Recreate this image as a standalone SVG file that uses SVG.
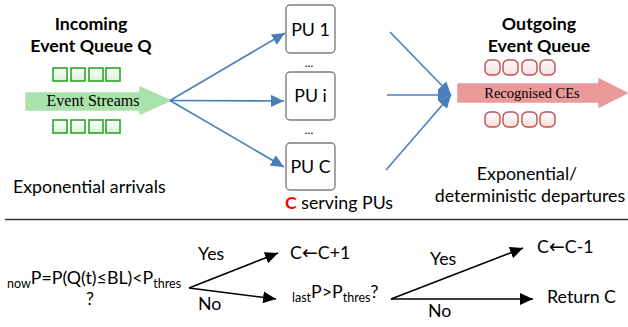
<svg xmlns="http://www.w3.org/2000/svg" width="628" height="327" viewBox="0 0 628 327">
  <defs>
    <linearGradient id="gGreen" x1="0" y1="0" x2="0" y2="1">
      <stop offset="0" stop-color="#ffffff"/>
      <stop offset="1" stop-color="#d9f2d4"/>
    </linearGradient>
    <linearGradient id="gRed" x1="0" y1="0" x2="0" y2="1">
      <stop offset="0" stop-color="#ffffff"/>
      <stop offset="1" stop-color="#f7dcdc"/>
    </linearGradient>
    <marker id="mBlue" markerUnits="userSpaceOnUse" markerWidth="14" markerHeight="12" viewBox="0 0 14 12" refX="13" refY="6" orient="auto">
      <path d="M0,0 L13,6 L0,12 Z" fill="#4a7ebb"/>
    </marker>
    <marker id="mBlack" markerUnits="userSpaceOnUse" markerWidth="14" markerHeight="12" viewBox="0 0 14 12" refX="13" refY="6" orient="auto">
      <path d="M0,0 L13,6 L0,12 Z" fill="#000"/>
    </marker>
  </defs>
  <style>
    text { font-family: Lato, "Liberation Sans", sans-serif; fill: #000; }
    .t { font-size: 17.8px; }
    .b { font-size: 17.8px; font-weight: bold; }
    .ser { font-family: "Liberation Serif", "DejaVu Serif", serif; }
    .sub { font-size: 12.5px; }
    .arr { font-family: "DejaVu Sans", sans-serif; font-size: 19px; }
    .gq { fill: url(#gGreen); stroke: #2aa52a; stroke-width: 1.6; }
    .rq { fill: url(#gRed); stroke: #c0504d; stroke-width: 1.4; }
    .pu { fill: #fff; stroke: #7f7f7f; stroke-width: 1.4; }
    .bl { stroke: #4a7ebb; stroke-width: 1.6; fill: none; }
    .bk { stroke: #000; stroke-width: 1.6; fill: none; }
  </style>

  <!-- incoming queue -->
  <g id="incoming">
    <text class="b" x="91" y="30" text-anchor="middle">Incoming</text>
    <text class="b" x="91" y="52" text-anchor="middle">Event Queue Q</text>
    <rect class="gq" x="53" y="68" width="14" height="13"/>
    <rect class="gq" x="71" y="68" width="14" height="13"/>
    <rect class="gq" x="89" y="68" width="14" height="13"/>
    <rect class="gq" x="106" y="68" width="14" height="13"/>
    <path d="M26,93 L140,93 L140,87 L170,100.5 L140,114 L140,110 L26,110 Z" fill="#a9e2aa" stroke="#a9e2aa" stroke-linejoin="round" stroke-width="1.5"/>
    <text class="ser" x="93" y="106" text-anchor="middle" font-size="16">Event Streams</text>
    <rect class="gq" x="53" y="120" width="14" height="13"/>
    <rect class="gq" x="71" y="120" width="14" height="13"/>
    <rect class="gq" x="89" y="120" width="14" height="13"/>
    <rect class="gq" x="106" y="120" width="14" height="13"/>
    <text class="t" x="13" y="193">Exponential arrivals</text>
  </g>

  <!-- processing units -->
  <g id="pu1">
    <rect class="pu" x="286" y="5" width="49" height="48" rx="4"/>
    <text class="t" x="310.5" y="36" text-anchor="middle">PU 1</text>
  </g>
  <g id="pui">
    <rect class="pu" x="286" y="72" width="49" height="48" rx="4"/>
    <text class="t" x="310.5" y="102" text-anchor="middle">PU i</text>
  </g>
  <g id="puc">
    <rect class="pu" x="286" y="143" width="49" height="47" rx="4"/>
    <text class="t" x="310.5" y="173" text-anchor="middle">PU C</text>
  </g>
  <g id="pu-labels">
    <text x="309" y="67" text-anchor="middle" font-size="12">...</text>
    <text x="309" y="134" text-anchor="middle" font-size="12">...</text>
    <text class="t" x="339" y="209" text-anchor="middle"><tspan fill="#ff0000" font-weight="bold">C</tspan> serving PUs</text>
  </g>

  <!-- outgoing queue -->
  <g id="outgoing">
    <text class="b" x="539" y="30" text-anchor="middle">Outgoing</text>
    <text class="b" x="539" y="52" text-anchor="middle">Event Queue</text>
    <rect class="rq" x="485" y="60" width="15" height="15" rx="5"/>
    <rect class="rq" x="503" y="60" width="15" height="15" rx="5"/>
    <rect class="rq" x="522" y="60" width="15" height="15" rx="5"/>
    <rect class="rq" x="540" y="60" width="15" height="15" rx="5"/>
    <path d="M458,84 L599,84 L599,79 L627,93 L599,107 L599,102 L458,102 Z" fill="#e99a99" stroke="#e99a99" stroke-linejoin="round" stroke-width="1.5"/>
    <text class="ser" x="532" y="97.5" text-anchor="middle" font-size="14.5">Recognised CEs</text>
    <rect class="rq" x="485" y="112" width="15" height="15" rx="5"/>
    <rect class="rq" x="503" y="112" width="15" height="15" rx="5"/>
    <rect class="rq" x="522" y="112" width="15" height="15" rx="5"/>
    <rect class="rq" x="540" y="112" width="15" height="15" rx="5"/>
    <text class="t" x="527" y="180" text-anchor="middle">Exponential/</text>
    <text class="t" x="530" y="202" text-anchor="middle">deterministic departures</text>
  </g>

  <!-- decision: scale up -->
  <g id="cond1">
    <text class="t" x="7" y="284"><tspan class="sub" dy="4">now</tspan><tspan dy="-4">P=P(Q(t)≤BL)&lt;P</tspan><tspan class="sub" dy="4">thres</tspan></text>
    <text class="t" x="90" y="305" text-anchor="middle">?</text>
  </g>
  <g id="inc">
    <text class="t" x="290" y="259">C<tspan class="arr">←</tspan>C+1</text>
  </g>
  <g id="cond2">
    <text class="t" x="292" y="298"><tspan class="sub" dy="4">last</tspan><tspan dy="-4">P&gt;P</tspan><tspan class="sub" dy="4">thres</tspan><tspan dy="-4">?</tspan></text>
  </g>
  <g id="dec">
    <text class="t" x="537" y="253">C<tspan class="arr">←</tspan>C-1</text>
  </g>
  <g id="ret">
    <text class="t" x="547" y="303">Return C</text>
  </g>

  <!-- connectors -->
  <g id="connectors">
    <line class="bl" x1="170" y1="100.5" x2="285" y2="33" marker-end="url(#mBlue)"/>
    <line class="bl" x1="170" y1="100.5" x2="284" y2="101" marker-end="url(#mBlue)"/>
    <line class="bl" x1="170" y1="100.5" x2="284" y2="167" marker-end="url(#mBlue)"/>
    <line class="bl" x1="390" y1="32" x2="451" y2="95" marker-end="url(#mBlue)"/>
    <line class="bl" x1="387" y1="95" x2="451" y2="95" marker-end="url(#mBlue)"/>
    <line class="bl" x1="386" y1="170" x2="451" y2="95" marker-end="url(#mBlue)"/>

    <line x1="5" y1="219.5" x2="628" y2="219.5" stroke="#333" stroke-width="1.6"/>

    <line class="bk" x1="189" y1="288" x2="278" y2="253" marker-end="url(#mBlack)"/>
    <line class="bk" x1="189" y1="288" x2="276" y2="299" marker-end="url(#mBlack)"/>
    <text class="t" x="198" y="260">Yes</text>
    <text class="t" x="198" y="310">No</text>

    <line class="bk" x1="391" y1="299" x2="523" y2="248" marker-end="url(#mBlack)"/>
    <line class="bk" x1="391" y1="299" x2="533" y2="299" marker-end="url(#mBlack)"/>
    <text class="t" x="430" y="265">Yes</text>
    <text class="t" x="428" y="317">No</text>
  </g>
</svg>
